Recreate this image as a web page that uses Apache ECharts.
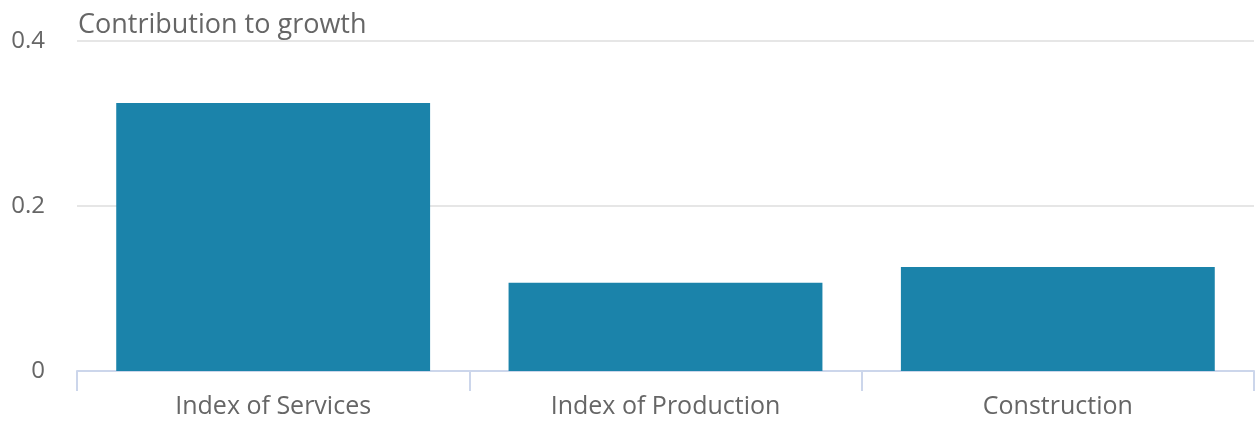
<!DOCTYPE html>
<html><head><meta charset="utf-8">
<script src="https://cdn.jsdelivr.net/npm/echarts@6/dist/echarts.min.js"></script>
<style>html,body{margin:0;padding:0;background:#fff}#c{width:1256px;height:424px}</style>
</head><body><div id="c"></div>
<script>
const categories = ["Index of Services", "Index of Production", "Construction"];
const values = [0.325, 0.107, 0.126];
const yTicks = [0, 0.2, 0.4];
const titleText = "Contribution to growth";

const chart = echarts.init(document.getElementById('c'));
chart.setOption({
  animation: false,
  title: {
    text: titleText, left: 73, top: 7,
    textStyle: {fontFamily: 'Open Sans', fontSize: 27, fontWeight: 'normal', color: '#666666'}
  },
  grid: {left: 77, right: 2, top: 41, bottom: 53, containLabel: false},
  xAxis: {
    type: 'category', data: categories,
    axisLine: {lineStyle: {color: '#ccd6eb', width: 2}},
    axisTick: {show: true, length: 20, lineStyle: {color: '#ccd6eb', width: 2}},
    axisLabel: {fontFamily: 'Open Sans', fontSize: 25, color: '#666666', margin: 23}
  },
  yAxis: {
    type: 'value', min: yTicks[0], max: yTicks[yTicks.length - 1], interval: 0.2,
    axisLine: {show: false}, axisTick: {show: false},
    splitLine: {lineStyle: {color: '#e6e6e6', width: 2}},
    axisLabel: {fontFamily: 'Open Sans', fontSize: 24, color: '#666666', margin: 32,
      formatter: v => String(Math.round(v * 10) / 10)}
  },
  series: [{
    type: 'bar', data: values, barCategoryGap: '20%',
    itemStyle: {color: '#1b83aa'}
  }]
});
</script></body></html>
